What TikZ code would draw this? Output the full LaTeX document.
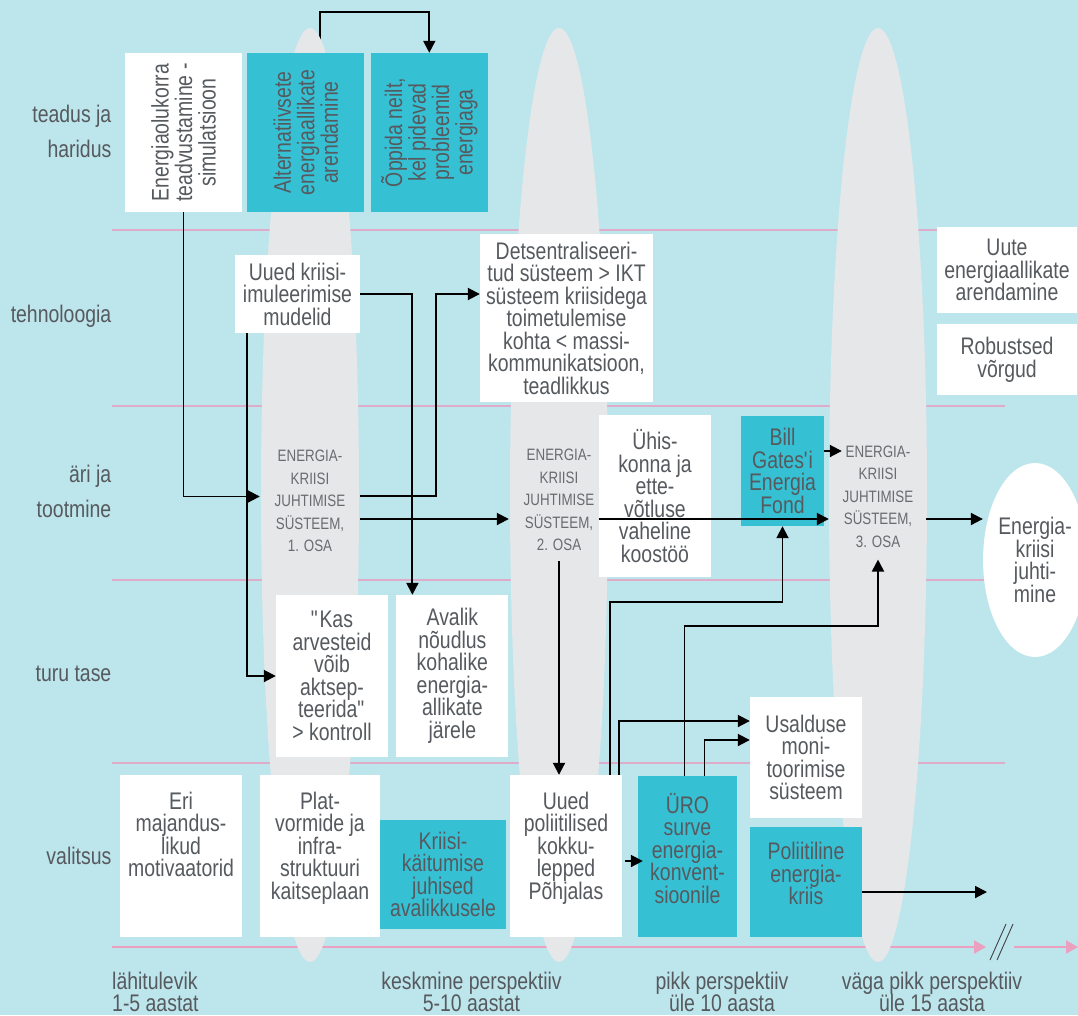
\documentclass[tikz,border=0pt]{standalone}
\usepackage{fontspec}
\setmainfont[FakeStretch=0.81]{Liberation Sans}
\usetikzlibrary{shapes.geometric,arrows.meta,positioning,backgrounds}

\definecolor{skyblue}{RGB}{189,229,236}
\definecolor{boxteal}{RGB}{54,192,212}
\definecolor{pillgrey}{RGB}{229,231,233}
\definecolor{lanepink}{RGB}{222,172,200}
\definecolor{axispink}{RGB}{234,160,190}
\definecolor{inkgrey}{RGB}{86,90,94}
\definecolor{capsgrey}{RGB}{105,108,111}

\setlength{\lineskiplimit}{-8pt}
% text pinned to the top of a fixed size box
\newcommand{\toptext}[4]{\parbox[c][#2][t]{#1}{\centering\vspace*{#3}#4}}

\tikzset{
  whitebox/.style={
    rectangle,
    inner sep=0pt,
    align=center,
    fill=white,
    text=inkgrey,
    font=\fontsize{24}{22.5}\selectfont
    },
  tealbox/.style={
    whitebox,
    fill=boxteal
    },
  phase/.style={
    inner sep=0pt,
    minimum width=100pt,
    align=center,
    text=capsgrey,
    font=\fontsize{16.5}{22.5}\selectfont
    },
  lane/.style={
    inner sep=0pt,
    anchor=east,
    align=right,
    text=inkgrey,
    font=\fontsize{24}{35}\selectfont
    },
  horizon/.style={
    inner sep=0pt,
    align=center,
    text=inkgrey,
    font=\fontsize{24}{22}\selectfont
    },
  arrow/.style={line width=1.9pt,->},
  laneline/.style={draw=lanepink,line width=1.3pt},
  axis/.style={draw=axispink,line width=2pt,-{Triangle[length=12pt,width=13pt]}},
}

\begin{document}
\begin{tikzpicture}[
            x = 1pt, y = -1pt, % one unit per pixel, origin top left
            > = {Triangle[length=12pt,width=12pt]}, % arrow head style
            node distance = 6pt
        ]
  \useasboundingbox (0,0) rectangle (1078,1015);

  % row labels
  \node[lane] (teadus) at (111.5,131.5) {teadus ja\\haridus};
  \node[lane] (tehno) at (111.5,316) {tehnoloogia};
  \node[lane] (ari) at (111.5,491.5) {äri ja\\tootmine};
  \node[lane] (turg) at (111.5,674) {turu tase};
  \node[lane] (valitsus) at (111.5,856) {valitsus};

  % teadus ja haridus
  \node[whitebox, minimum width=117pt, minimum height=159pt] (enerola) at (183.5,132.5)
    {\rotatebox{90}{\parbox{150pt}{\baselineskip=23.5pt\centering Energiaolukorra\\teadvustamine -\\simulatsioon}}};
  \node[tealbox, minimum width=117pt, minimum height=159pt, right=5pt of enerola] (alternatiiv)
    {\rotatebox{90}{\parbox{150pt}{\baselineskip=23.5pt\centering Alternatiivsete\\energiaallikate\\arendamine}}};
  \node[tealbox, minimum width=117pt, minimum height=159pt, right=6pt of alternatiiv] (oppida)
    {\rotatebox{90}{\parbox{150pt}{\baselineskip=23.5pt\centering Õppida neilt,\\kel pidevad\\probleemid\\energiaga}}};

  % tehnoloogia
  \node[whitebox, minimum width=125pt, minimum height=78pt] (uuedkriisi) at (297.5,294)
    {Uued kriisi-\\imuleerimise\\mudelid};
  \node[whitebox, minimum width=173pt, minimum height=168pt] (detsentral) at (566.5,318)
    {Detsentraliseeri-\\tud süsteem > IKT\\süsteem kriisidega\\toimetulemise\\kohta < massi-\\kommunikatsioon,\\teadlikkus};
  \node[whitebox, minimum width=140pt, minimum height=86pt] (uute) at (1007,270)
    {Uute\\energiaallikate\\arendamine};
  \node[whitebox, minimum width=140pt, minimum height=71pt, below=11pt of uute] (robust)
    {Robustsed\\võrgud};

  % äri ja tootmine
  \node[phase] (e1) at (310,501) {ENERGIA-\\KRIISI\\JUHTIMISE\\SÜSTEEM,\\1. OSA};
  \node[phase] (e2) at (559,500) {ENERGIA-\\KRIISI\\JUHTIMISE\\SÜSTEEM,\\2. OSA};
  \node[phase, minimum width=72pt] (e3) at (878,496.5) {ENERGIA-\\KRIISI\\JUHTIMISE\\SÜSTEEM,\\3. OSA};
  \node[whitebox, minimum width=112pt, minimum height=162pt] (uhis) at (655,496)
    {Ühis-\\konna ja\\ette-\\võtluse\\vaheline\\koostöö};
  \node[tealbox, minimum width=83pt, minimum height=110pt] (bill) at (782.5,471)
    {Bill\\Gates\textquotesingle i\\Energia\\Fond};
  \node[whitebox, ellipse, minimum width=94pt, minimum height=194pt] (ekj) at (1035,560)
    {Energia-\\kriisi\\juhti-\\mine};

  % turu tase
  \node[whitebox, minimum width=112pt, minimum height=162pt] (kas) at (332,676)
    {\textquotedbl Kas\\arvesteid\\võib\\aktsep-\\teerida\textquotedbl\\> kontroll};
  \node[whitebox, minimum width=112pt, minimum height=162pt, right=8pt of kas] (avalik)
    {Avalik\\nõudlus\\kohalike\\energia-\\allikate\\järele};
  \node[whitebox, minimum width=112pt, minimum height=121pt] (usaldus) at (806,757.5)
    {Usalduse\\moni-\\toorimise\\süsteem};

  % valitsus
  \node[whitebox, minimum width=122pt, minimum height=162pt] (eri) at (181,856)
    {\toptext{122pt}{162pt}{17pt}{Eri\\majandus-\\likud\\motivaatorid}};
  \node[whitebox, minimum width=120pt, minimum height=162pt] (plat) at (320,856)
    {\toptext{120pt}{162pt}{17pt}{Plat-\\vormide ja\\infra-\\struktuuri\\kaitseplaan}};
  \node[tealbox, minimum width=126pt, minimum height=109pt] (kriisikait) at (443,874.5)
    {Kriisi-\\käitumise\\juhised\\avalikkusele};
  \node[whitebox, minimum width=112pt, minimum height=162pt] (uuedpol) at (566,856)
    {\toptext{112pt}{162pt}{17pt}{Uued\\poliitilised\\kokku-\\lepped\\Põhjalas}};
  \node[tealbox, minimum width=99pt, minimum height=161pt] (uro) at (687.5,856.5)
    {\toptext{99pt}{161pt}{17pt}{ÜRO\\surve\\energia-\\konvent-\\sioonile}};
  \node[tealbox, minimum width=112pt, minimum height=110pt, below=9pt of usaldus] (poliit)
    {\toptext{112pt}{110pt}{15pt}{Poliitiline\\energia-\\kriis}};

  % time axis labels
  \node[horizon, anchor=west, align=left] (lahi) at (112,992) {lähitulevik\\1-5 aastat};
  \node[horizon] (keskmine) at (471.5,992) {keskmine perspektiiv\\5-10 aastat};
  \node[horizon] (pikk) at (722,992) {pikk perspektiiv\\üle 10 aasta};
  \node[horizon] (vagapikk) at (932,992) {väga pikk perspektiiv\\üle 15 aasta};

  \begin{scope}[on background layer]
    \fill[skyblue] (0,0) rectangle (1078,1015);
    \foreach \y in {230,406,580,763}
      \draw[laneline] (112,\y) -- (1005,\y);
    \draw[axis] (112,947) -- (986,947);
    \draw[axis] (1014,947) -- (1078,947);
    \draw[black!75, line width=0.9pt] (990,960) -- (1006,924) (997,960) -- (1013,924);
    % link over the top, hidden by the first pillar
    \draw[arrow] ([xshift=14.5pt]alternatiiv.north) -- ++(0,-41) -| (oppida.north);
    \foreach \cx in {310,559,878}
      \fill[pillgrey] (\cx,495) ellipse [x radius=49pt, y radius=467pt];
  \end{scope}

  \draw[arrow] (enerola.south) |- ([yshift=4.5pt]e1.west);
  \draw[arrow] ([xshift=-50.5pt]uuedkriisi.south) |- (kas.west);
  \draw[arrow] (uuedkriisi.east) -| ([xshift=-40pt]avalik.north);
  \draw[arrow] ([yshift=5pt]e1.east) -| ([xshift=-44pt,yshift=24pt]detsentral.west)
    -- ([yshift=24pt]detsentral.west);
  \draw[arrow] ([yshift=-18pt]e1.east) -- ([yshift=-18pt]e1.east -| e2.west);
  \draw[arrow] ([yshift=-23pt]uhis.west) -- ([xshift=-13pt,yshift=-22.5pt]e3.west);
  \draw[arrow] ([yshift=20pt]bill.east) -- ([yshift=20pt]bill.east -| e3.west);
  \draw[arrow] ([xshift=12pt,yshift=-22.5pt]e3.east) -- ([yshift=-22.5pt]e3.east -| ekj.west);
  \draw[arrow] ([yshift=-10pt]e2.south) -- (e2.south |- uuedpol.north);
  \draw[arrow] ([xshift=44pt]uuedpol.north) -- ++(0,-173) -| (bill.south);
  \draw[arrow] ([xshift=-3pt]uro.north) -- ++(0,-150) -| ([yshift=-12pt]e3.south);
  \draw[arrow] ([xshift=53pt]uuedpol.north) |- ([yshift=36.5pt]usaldus.west);
  \draw[arrow] ([xshift=17pt]uro.north) |- ([yshift=17.5pt]usaldus.west);
  \draw[arrow] ([xshift=3pt,yshift=-5pt]uuedpol.east) -- ([xshift=5pt,yshift=-4.5pt]uro.west);
  \coordinate (onward) at (987,892);
  \draw[arrow] (poliit.east |- onward) -- (onward);
\end{tikzpicture}
\end{document}
